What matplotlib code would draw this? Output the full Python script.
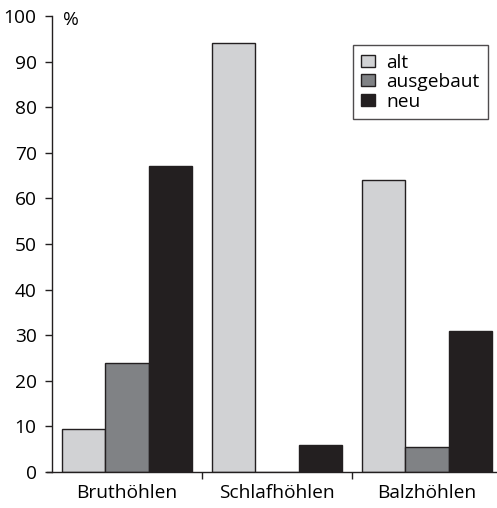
import matplotlib
matplotlib.use("Agg")
import matplotlib.pyplot as plt
import numpy as np

categories = ["Bruthöhlen", "Schlafhöhlen", "Balzhöhlen"]
series = ["alt", "ausgebaut", "neu"]
alt = [9.5, 94.0, 64.0]
ausgebaut = [24.0, 0.0, 5.5]
neu = [67.0, 6.0, 31.0]
yticks = [0, 10, 20, 30, 40, 50, 60, 70, 80, 90, 100]

colors = ["#d1d2d4", "#808285", "#231f20"]
edge = "#231f20"

plt.rcParams['font.family'] = ['Open Sans', 'DejaVu Sans']
FS = 13.8

fig = plt.figure(figsize=(4.97, 5.08), dpi=100)
ax = fig.add_axes([52/497, 1-472/508, 445/497, (472-16)/508])

x = np.arange(len(categories))
w = 0.287
for i, (vals, name) in enumerate(zip([alt, ausgebaut, neu], series)):
    ax.bar(x + (i-1)*w, vals, width=w, color=colors[i], edgecolor=edge,
           linewidth=1.0, label=name)

ax.set_xlim(-0.5, 2.5 - 5/150)
ax.set_ylim(0, 100)
ax.set_yticks(yticks)
ax.set_xticks([0.5, 1.5])
ax.set_xticklabels([])
ax.set_xticks(x, minor=True)
ax.set_xticklabels(categories, minor=True)
ax.tick_params(axis='x', which='minor', length=0, pad=9, labelsize=FS)
ax.tick_params(axis='x', which='major', length=5, width=1, color=edge, direction='out')
ax.tick_params(axis='y', length=5, width=1, color=edge, direction='out', labelsize=FS, pad=6)
for s in ['top', 'right']:
    ax.spines[s].set_visible(False)
for s in ['left', 'bottom']:
    ax.spines[s].set_color(edge)
    ax.spines[s].set_linewidth(1)
ax.spines['bottom'].set_bounds(-0.5 - 5/150, 2.5)

ax.text(63/497, 1-20/508, "%", transform=fig.transFigure, fontsize=FS,
        ha='left', va='center')

leg = ax.legend(loc='upper right', bbox_to_anchor=((488-52)/445, 1 - (45-16)/456),
                bbox_transform=ax.transAxes, frameon=True, fancybox=False,
                fontsize=FS, handlelength=0.7, handleheight=0.6, handletextpad=0.6,
                labelspacing=0.08, borderpad=0.45, borderaxespad=0)
leg.get_frame().set_edgecolor(edge)
leg.get_frame().set_linewidth(1)

fig.savefig("out.png", dpi=100)
